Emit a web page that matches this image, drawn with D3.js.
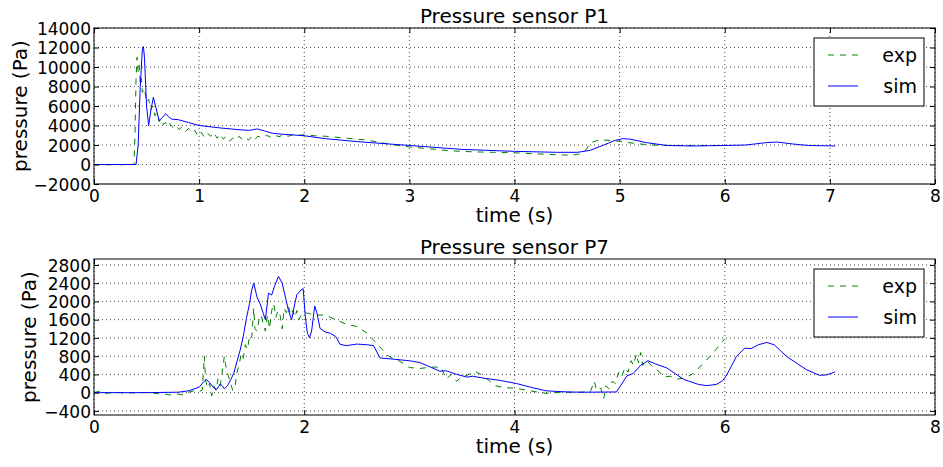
<!DOCTYPE html>
<html>
<head>
<meta charset="utf-8">
<script src="https://cdn.jsdelivr.net/npm/d3@7"></script>
<style>
  body { margin: 0; background: #fff; }
  svg text { font-family: "DejaVu Sans", sans-serif; fill: #000; }
</style>
</head>
<body>
<div id="chart"></div>
<script>
// time (s), pressure (Pa)
let p1Exp = [
  [0, 0], [0.1, -50], [0.2, 0], [0.3, -30], [0.38, 0], [0.39, 3000], [0.40, 9000], [0.41, 11000],
  [0.42, 9500], [0.43, 10200], [0.44, 8200], [0.45, 8800], [0.46, 7400], [0.48, 7800], [0.50, 6400],
  [0.52, 6700], [0.54, 5600], [0.56, 6000], [0.58, 5000], [0.60, 5300], [0.62, 4400], [0.64, 4700],
  [0.66, 4100], [0.68, 4300], [0.70, 3900], [0.72, 4200], [0.75, 3800], [0.78, 4000], [0.81, 3600],
  [0.84, 3900], [0.87, 3400], [0.90, 3700], [0.93, 3300], [0.96, 3500], [0.99, 2900], [1.02, 3300],
  [1.05, 2800], [1.08, 3200], [1.11, 2900], [1.14, 3300], [1.17, 2700], [1.20, 3100], [1.23, 2600],
  [1.26, 2900], [1.29, 2400], [1.32, 2700], [1.35, 2500], [1.38, 2900], [1.41, 2600], [1.44, 2800],
  [1.47, 2500], [1.50, 2900], [1.53, 2600], [1.56, 2900], [1.60, 2700], [1.64, 3000], [1.68, 2800],
  [1.72, 3000], [1.76, 2850], [1.80, 3050], [1.85, 2900], [1.90, 3100], [1.95, 3000], [2.0, 3050],
  [2.1, 2950], [2.2, 2900], [2.4, 2700], [2.6, 2500], [2.8, 2100], [3.0, 1800], [3.2, 1600],
  [3.4, 1400], [3.6, 1300], [3.8, 1250], [4.0, 1200], [4.2, 1100], [4.4, 1000], [4.55, 950],
  [4.62, 1100], [4.68, 1500], [4.72, 2200], [4.78, 2450], [4.85, 2500], [4.95, 2450], [5.05, 2300],
  [5.15, 2150], [5.3, 2000], [5.5, 1950], [5.7, 1950], [6.0, 1950]
];
let p1Sim = [
  [0, 0], [0.40, 0], [0.42, 2000], [0.44, 8000], [0.46, 11800], [0.47, 12100], [0.48, 11000],
  [0.50, 6000], [0.52, 4000], [0.54, 5500], [0.565, 6900], [0.59, 5800], [0.62, 4500], [0.65, 4800],
  [0.68, 5200], [0.71, 4900], [0.74, 4650], [0.8, 4600], [0.9, 4300], [1.0, 4000], [1.2, 3750],
  [1.4, 3550], [1.48, 3500], [1.55, 3650], [1.62, 3450], [1.7, 3200], [1.8, 3100], [2.0, 2950],
  [2.2, 2650], [2.5, 2350], [3.0, 1950], [3.5, 1550], [4.0, 1350], [4.4, 1250], [4.6, 1250],
  [4.72, 1450], [4.85, 2000], [4.95, 2450], [5.03, 2650], [5.1, 2600], [5.25, 2250], [5.45, 1950],
  [5.7, 1900], [6.0, 1950], [6.2, 2000], [6.4, 2250], [6.5, 2300], [6.65, 2100], [6.8, 1950],
  [7.05, 1900]
];
let p7Exp = [
  [0, 0], [0.05, 30], [0.1, -20], [0.2, 10], [0.3, -10], [0.4, 0], [0.5, 5], [0.6, -20], [0.7, -40],
  [0.75, -60], [0.8, -30], [0.85, -50], [0.9, 10], [0.95, 40], [1.0, 20], [1.03, 60], [1.05, 800],
  [1.06, 300], [1.08, 100], [1.1, 200], [1.12, -70], [1.14, 150], [1.16, 50], [1.18, 300], [1.2, 150],
  [1.22, 450], [1.24, 800], [1.26, 500], [1.28, 350], [1.30, 200], [1.32, 50], [1.34, 100], [1.36, 450],
  [1.38, 600], [1.40, 850], [1.42, 750], [1.44, 1050], [1.46, 950], [1.48, 1250], [1.50, 1200],
  [1.52, 1850], [1.53, 1400], [1.55, 1350], [1.57, 1600], [1.59, 1700], [1.61, 1500], [1.63, 1350],
  [1.65, 1700], [1.67, 1400], [1.69, 1800], [1.71, 1950], [1.73, 1650], [1.75, 1800], [1.77, 1700],
  [1.79, 1400], [1.81, 1850], [1.83, 1750], [1.85, 1900], [1.87, 1700], [1.89, 1800], [1.91, 1650],
  [1.93, 1800], [1.95, 1600], [1.98, 1750], [2.02, 1750], [2.1, 1700], [2.2, 1700], [2.3, 1600],
  [2.4, 1500], [2.5, 1450], [2.6, 1300], [2.7, 1050], [2.8, 800], [2.9, 700], [3.0, 550], [3.1, 530],
  [3.2, 560], [3.3, 560], [3.35, 300], [3.4, 400], [3.45, 250], [3.5, 350], [3.55, 380], [3.62, 470],
  [3.68, 400], [3.75, 280], [3.82, 150], [3.9, 110], [4.0, 100], [4.1, 60], [4.2, 20], [4.3, -15],
  [4.45, 10], [4.6, 10], [4.72, 15], [4.76, 250], [4.78, 50], [4.82, 100], [4.85, -130], [4.87, 150],
  [4.9, 80], [4.93, 250], [4.96, 200], [4.99, 450], [5.02, 350], [5.05, 550], [5.08, 450], [5.11, 700],
  [5.13, 600], [5.16, 850], [5.18, 650], [5.2, 880], [5.22, 600], [5.25, 700], [5.28, 650], [5.32, 560],
  [5.38, 450], [5.42, 340], [5.48, 360], [5.55, 300], [5.62, 320], [5.7, 420], [5.8, 650], [5.9, 900],
  [6.0, 1180]
];
let p7Sim = [
  [0, 0], [0.5, 0], [0.8, 10], [0.9, 40], [1.0, 120], [1.04, 230], [1.07, 290], [1.1, 220], [1.14, 100],
  [1.17, 75], [1.2, 190], [1.22, 150], [1.24, 85], [1.27, 150], [1.3, 280], [1.33, 430], [1.36, 680],
  [1.39, 930], [1.42, 1230], [1.45, 1630], [1.48, 1960], [1.5, 2250], [1.52, 2400], [1.55, 2100],
  [1.58, 1950], [1.61, 1740], [1.63, 1600], [1.66, 2180], [1.69, 2140], [1.72, 2350], [1.755, 2550],
  [1.79, 2400], [1.82, 2100], [1.85, 1800], [1.88, 1600], [1.91, 1950], [1.93, 2150], [1.97, 2250],
  [1.99, 2280], [2.01, 1670], [2.03, 1300], [2.05, 1200], [2.07, 1350], [2.1, 1900], [2.12, 1750],
  [2.15, 1410], [2.2, 1330], [2.25, 1300], [2.3, 1230], [2.34, 1060], [2.4, 1030], [2.5, 1065],
  [2.6, 1050], [2.66, 1030], [2.72, 760], [2.82, 740], [3.0, 700], [3.1, 660], [3.2, 560], [3.29, 470],
  [3.35, 480], [3.45, 400], [3.55, 340], [3.6, 360], [3.7, 320], [3.86, 270], [4.02, 200], [4.15, 120],
  [4.3, 40], [4.5, 15], [4.65, 10], [4.97, 15], [5.07, 370], [5.13, 420], [5.2, 600], [5.27, 700],
  [5.33, 640], [5.45, 540], [5.61, 290], [5.75, 180], [5.83, 155], [5.92, 180], [5.98, 260], [6.02, 390],
  [6.11, 790], [6.19, 975], [6.25, 965], [6.32, 1050], [6.4, 1100], [6.47, 1050], [6.59, 790],
  [6.78, 500], [6.9, 380], [6.97, 390], [7.05, 455]
];

let xTicks = [0, 1, 2, 3, 4, 5, 6, 7, 8];
let xTicksP7 = [0, 2, 4, 6, 8];
let yTicksP1 = [-2000, 0, 2000, 4000, 6000, 8000, 10000, 12000, 14000];
let yTicksP7 = [-400, 0, 400, 800, 1200, 1600, 2000, 2400, 2800];
let legendNames = ["exp", "sim"];

let W = 943, H = 467;
let left = 94, right = 935;
let expColor = "#008000", simColor = "#0000ff";

let svg = d3.select("#chart").append("svg")
    .attr("width", W)
    .attr("height", H);

function fmt(v) {
    return v < 0 ? "\u2212" + Math.abs(v) : String(v);
}

function drawPanel(o) {
    let x = d3.scaleLinear().domain([0, 8]).range([left, right]);
    let y = d3.scaleLinear().domain(o.yDomain).range([o.bottom, o.top]);
    let g = svg.append("g");

    // grid
    g.selectAll(".gx").data(o.xTicks).enter().append("line")
        .attr("x1", d => x(d)).attr("x2", d => x(d))
        .attr("y1", o.top).attr("y2", o.bottom)
        .attr("stroke", "#222").attr("stroke-width", 0.8)
        .attr("stroke-dasharray", "1,3");
    g.selectAll(".gy").data(o.yTicks).enter().append("line")
        .attr("x1", left).attr("x2", right)
        .attr("y1", d => y(d)).attr("y2", d => y(d))
        .attr("stroke", "#222").attr("stroke-width", 0.8)
        .attr("stroke-dasharray", "1,3");

    let clipId = "clip" + o.name;
    svg.append("clipPath").attr("id", clipId).append("rect")
        .attr("x", left).attr("y", o.top)
        .attr("width", right - left).attr("height", o.bottom - o.top);

    let line = d3.line().x(d => x(d[0])).y(d => y(d[1]));

    g.append("path").datum(o.exp)
        .attr("clip-path", "url(#" + clipId + ")")
        .attr("d", line)
        .attr("fill", "none")
        .attr("stroke", expColor)
        .attr("stroke-width", 1)
        .attr("stroke-dasharray", "6,6");
    g.append("path").datum(o.sim)
        .attr("clip-path", "url(#" + clipId + ")")
        .attr("d", line)
        .attr("fill", "none")
        .attr("stroke", simColor)
        .attr("stroke-width", 1);

    // axes, ticks inside on all sides
    let xb = g.append("g").attr("transform", "translate(0," + o.bottom + ")")
        .call(d3.axisBottom(x).tickValues(o.xTicks).tickSizeInner(-5).tickSizeOuter(0).tickPadding(9).tickFormat(fmt));
    let xt = g.append("g").attr("transform", "translate(0," + o.top + ")")
        .call(d3.axisTop(x).tickValues(o.xTicks).tickSizeInner(-5).tickSizeOuter(0).tickFormat(""));
    let yl = g.append("g").attr("transform", "translate(" + left + ",0)")
        .call(d3.axisLeft(y).tickValues(o.yTicks).tickSizeInner(-5).tickSizeOuter(0).tickPadding(3).tickFormat(fmt));
    let yr = g.append("g").attr("transform", "translate(" + right + ",0)")
        .call(d3.axisRight(y).tickValues(o.yTicks).tickSizeInner(-5).tickSizeOuter(0).tickFormat(""));
    [xb, xt, yl, yr].forEach(a => {
        a.select(".domain").remove();
        a.selectAll("line").attr("stroke", "#000");
        a.selectAll("text").attr("font-size", 17).attr("font-family", "DejaVu Sans");
    });
    xb.selectAll("text").attr("dy", null).attr("y", 18);
    yl.selectAll("text").attr("dy", "0.36em").attr("x", -3);

    g.append("rect")
        .attr("x", left).attr("y", o.top)
        .attr("width", right - left).attr("height", o.bottom - o.top)
        .attr("fill", "none").attr("stroke", "#000").attr("stroke-width", 1);

    g.append("text")
        .attr("x", (left + right) / 2).attr("y", o.top - 5)
        .attr("text-anchor", "middle").attr("font-size", 20)
        .text(o.title);
    g.append("text")
        .attr("x", (left + right) / 2).attr("y", o.bottom + 38)
        .attr("text-anchor", "middle").attr("font-size", 20)
        .text("time (s)");
    g.append("text")
        .attr("transform", "translate(" + o.yLabelX + "," + (o.top + o.bottom) / 2 + ") rotate(-90)")
        .attr("text-anchor", "middle").attr("font-size", 20)
        .text("pressure (Pa)");

    // legend
    let lg = g.append("g").attr("transform", "translate(814," + (o.top + 10) + ")");
    lg.append("rect").attr("width", 110).attr("height", 68)
        .attr("fill", "#fff").attr("stroke", "#000").attr("stroke-width", 1);
    legendNames.forEach((n, i) => {
        let yy = 17 + i * 31;
        lg.append("line").attr("x1", 14).attr("x2", 44).attr("y1", yy).attr("y2", yy)
            .attr("stroke", i === 0 ? expColor : simColor).attr("stroke-width", 1)
            .attr("stroke-dasharray", i === 0 ? "6,6" : null);
        lg.append("text").attr("x", 103).attr("y", yy + 7)
            .attr("text-anchor", "end").attr("font-size", 19)
            .text(n);
    });
}

drawPanel({name: "p1", top: 28, bottom: 184, yDomain: [-2000, 14000], xTicks: xTicks, yTicks: yTicksP1,
    exp: p1Exp, sim: p1Sim, title: "Pressure sensor P1", yLabelX: 27});
drawPanel({name: "p7", top: 259, bottom: 415, yDomain: [-490, 2930], xTicks: xTicksP7, yTicks: yTicksP7,
    exp: p7Exp, sim: p7Sim, title: "Pressure sensor P7", yLabelX: 36});
</script>
</body>
</html>
